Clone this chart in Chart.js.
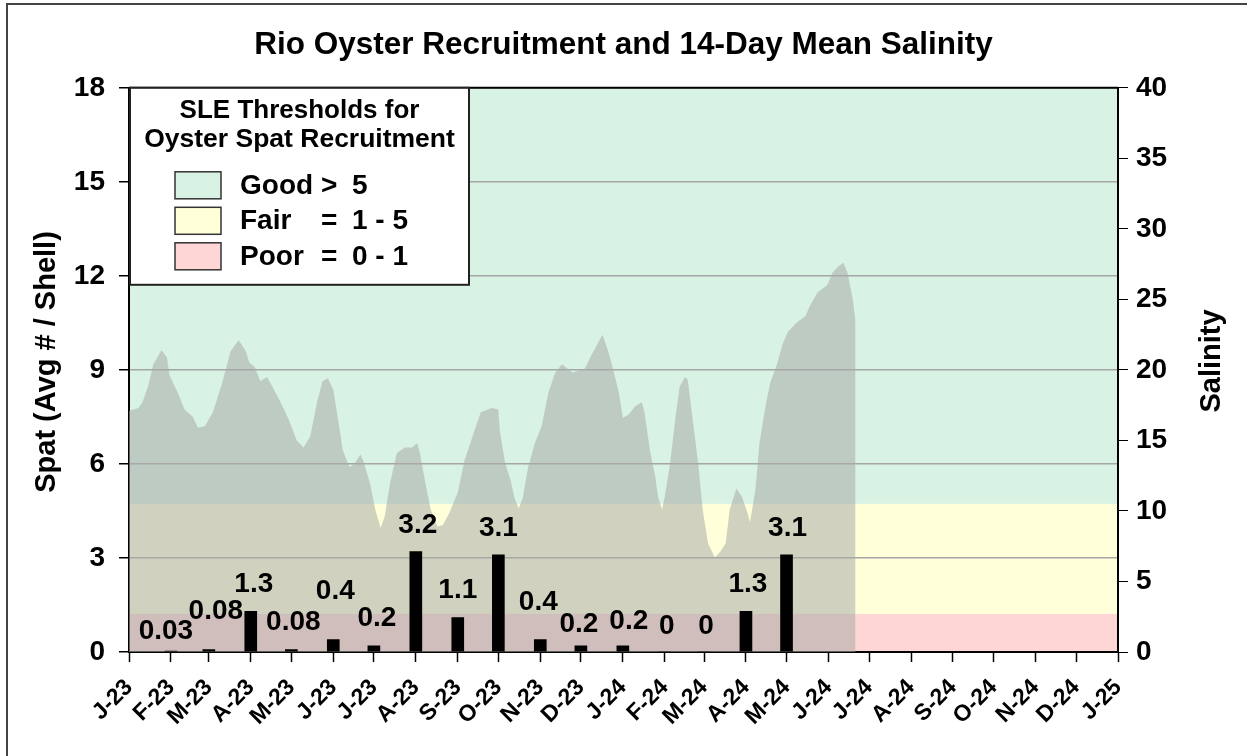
<!DOCTYPE html>
<html>
<head>
<meta charset="utf-8">
<title>Rio Oyster Recruitment and 14-Day Mean Salinity</title>
<script src="https://cdn.jsdelivr.net/npm/chart.js@4.4.1/dist/chart.umd.min.js"></script>
<style>
    html, body { margin: 0; padding: 0; background: #fff; }
    #wrap { width: 1247px; height: 756px; }
</style>
</head>
<body>
<div id="wrap"><canvas id="chart" width="1247" height="756"></canvas></div>
<script>
// Month ticks, Jan 2023 .. Jan 2025
const monthLabels = ['J-23', 'F-23', 'M-23', 'A-23', 'M-23', 'J-23', 'J-23', 'A-23', 'S-23', 'O-23', 'N-23', 'D-23',
    'J-24', 'F-24', 'M-24', 'A-24', 'M-24', 'J-24', 'J-24', 'A-24', 'S-24', 'O-24', 'N-24', 'D-24', 'J-25'];

// Spat sampling months and average spat per shell
const spatMonths = ['2023-02', '2023-03', '2023-04', '2023-05', '2023-06', '2023-07', '2023-08', '2023-09',
    '2023-10', '2023-11', '2023-12', '2024-01', '2024-02', '2024-03', '2024-04', '2024-05'];
const spatValues = [0.03, 0.08, 1.3, 0.08, 0.4, 0.2, 3.2, 1.1, 3.1, 0.4, 0.2, 0.2, 0, 0, 1.3, 3.1];

// 14-day mean salinity (day since 1 Jan 2023, salinity)
const salinityDays = [0, 7, 10, 14, 18, 24, 28, 30, 36, 41, 47, 51, 56, 62, 69, 75, 81, 86, 89, 93,
    97, 102, 106, 112, 118, 124, 129, 134, 139, 143, 147, 151, 155, 158, 163, 167, 171, 173, 178, 182,
    186, 189, 193, 198, 204, 209, 213, 215, 219, 223, 228, 232, 237, 243, 248, 254, 260, 263, 268, 273,
    274, 278, 282, 285, 288, 291, 295, 300, 305, 310, 315, 320, 324, 328, 331, 337, 341, 346, 350, 354,
    358, 362, 365, 369, 374, 379, 381, 385, 389, 391, 394, 396, 400, 404, 407, 411, 413, 417, 421, 424,
    428, 433, 437, 441, 444, 449, 453, 457, 459, 463, 466, 470, 474, 479, 483, 487, 494, 500, 503, 509,
    516, 520, 524, 528, 531, 535, 537];
const salinityValues = [17.1, 17.3, 17.7, 18.8, 20.4, 21.4, 20.9, 19.6, 18.4, 17.2, 16.7, 15.9, 16.0, 17.0, 19.1, 21.3, 22.1, 21.4, 20.5, 20.2,
    19.2, 19.5, 18.8, 17.7, 16.5, 15.0, 14.5, 15.3, 17.7, 19.2, 19.4, 18.6, 16.2, 14.3, 13.1, 13.4, 14.0, 13.6, 12.0, 10.1,
    8.8, 9.6, 12.0, 14.1, 14.5, 14.5, 14.8, 14.1, 12.0, 10.1, 8.9, 9.0, 9.9, 11.3, 13.6, 15.3, 17.0, 17.1, 17.3, 17.2,
    15.7, 13.4, 12.2, 10.9, 10.2, 10.9, 13.1, 14.8, 16.0, 18.4, 19.8, 20.4, 20.1, 19.8, 19.9, 20.1, 20.9, 21.8, 22.5, 21.4,
    20.0, 18.4, 16.6, 16.8, 17.4, 17.7, 17.0, 14.3, 12.4, 11.0, 10.1, 11.0, 13.4, 16.7, 18.8, 19.5, 19.3, 16.2, 13.1, 10.1,
    7.7, 6.7, 7.1, 7.7, 10.1, 11.6, 11.0, 9.9, 9.2, 11.5, 14.8, 17.2, 19.1, 20.4, 21.8, 22.7, 23.4, 23.8, 24.5, 25.5,
    26.0, 26.9, 27.3, 27.6, 26.9, 25.0, 23.4];

// SLE threshold bands on the salinity axis, top to bottom
const bandEdges = [40, 10.5, 2.7, 0];
const bandColors = ['#d8f2e4', '#ffffd9', '#ffd6d6'];
const legendNames = ['Good', 'Fair', 'Poor'];
const legendSigns = ['>', '=', '='];
const legendRanges = ['5', '1 - 5', '0 - 1'];

// nudges for the bar value labels (px), like the hand-placed labels of the original
const labelLift = [20, 38, 27, 27, 48, 27, 26, 27, 27, 37, 21, 24, 26, 26, 27, 27];
const labelShift = [-5, 7, 3, 2, 2, 3, 2, 0, 0, -2, -2, 6, 2, 2, 2, 1];

const FONT = "'Liberation Sans', Arial, sans-serif";
const t0 = Date.UTC(2023, 0, 1);
function dayOf(y, m) {
    return (Date.UTC(y, m, 1) - t0) / 86400000;
}
const monthDays = monthLabels.map((_, i) => dayOf(2023, i));
const spatDays = spatMonths.map(s => {
    const [y, m] = s.split('-').map(Number);
    return dayOf(y, m - 1);
});

Chart.defaults.font.family = FONT;
Chart.defaults.color = '#000';

// threshold bands behind everything
const bands = {
    id: 'bands',
    beforeDraw(chart) {
        const { ctx, chartArea: a } = chart;
        const y2 = chart.scales.y2;
        ctx.save();
        ctx.fillStyle = '#fff';
        ctx.fillRect(0, 0, chart.width, chart.height);
        for (let i = 0; i < bandColors.length; i++) {
            const top = y2.getPixelForValue(bandEdges[i]);
            const bottom = y2.getPixelForValue(bandEdges[i + 1]);
            ctx.fillStyle = bandColors[i];
            ctx.fillRect(a.left, top, a.right - a.left, bottom - top);
        }
        ctx.restore();
    }
};

// value labels over the bars
const barLabels = {
    id: 'barLabels',
    afterDatasetsDraw(chart) {
        const ctx = chart.ctx;
        const meta = chart.getDatasetMeta(0);
        ctx.save();
        ctx.font = 'bold 28px ' + FONT;
        ctx.fillStyle = '#000';
        ctx.textAlign = 'center';
        ctx.textBaseline = 'middle';
        meta.data.forEach((bar, i) => {
            ctx.fillText(String(spatValues[i]), bar.x + labelShift[i], bar.y - labelLift[i]);
        });
        ctx.restore();
    }
};

// legend box, axis titles, top border and outer frame
const extras = {
    id: 'extras',
    afterDraw(chart) {
        const { ctx, chartArea: a } = chart;
        ctx.save();

        // top border of the plot
        ctx.strokeStyle = '#000';
        ctx.lineWidth = 2;
        ctx.beginPath();
        ctx.moveTo(a.left, a.top);
        ctx.lineTo(a.right, a.top);
        ctx.stroke();

        // legend box
        const bx = a.left + 1, by = a.top, bw = 339, bh = 197;
        ctx.fillStyle = '#fff';
        ctx.fillRect(bx, by, bw, bh);
        ctx.strokeStyle = '#222';
        ctx.strokeRect(bx, by, bw, bh);

        ctx.fillStyle = '#000';
        ctx.textAlign = 'center';
        ctx.textBaseline = 'middle';
        ctx.font = 'bold 26px ' + FONT;
        ctx.fillText('SLE Thresholds for', bx + bw / 2, by + 23);
        ctx.font = 'bold 26.5px ' + FONT;
        ctx.fillText('Oyster Spat Recruitment', bx + bw / 2, by + 52);

        ctx.font = 'bold 28px ' + FONT;
        ctx.textAlign = 'left';
        for (let i = 0; i < legendNames.length; i++) {
            const sy = by + 84 + i * 35.5;
            ctx.fillStyle = bandColors[i];
            ctx.fillRect(bx + 45, sy, 46, 27);
            ctx.strokeStyle = '#333';
            ctx.lineWidth = 1.5;
            ctx.strokeRect(bx + 45, sy, 46, 27);
            ctx.fillStyle = '#000';
            ctx.fillText(legendNames[i], bx + 110, sy + 14);
            ctx.fillText(legendSigns[i], bx + 191, sy + 14);
            ctx.fillText(legendRanges[i], bx + 222, sy + 14);
        }

        // axis titles, both read bottom to top
        ctx.font = 'bold 29px ' + FONT;
        ctx.textAlign = 'center';
        ctx.translate(47, 362);
        ctx.rotate(-Math.PI / 2);
        ctx.fillText('Spat (Avg # / Shell)', 0, 0);
        ctx.setTransform(1, 0, 0, 1, 0, 0);
        ctx.translate(1212, 361);
        ctx.rotate(-Math.PI / 2);
        ctx.fillText('Salinity', 0, 0);
        ctx.setTransform(1, 0, 0, 1, 0, 0);

        // outer frame
        ctx.strokeStyle = '#444';
        ctx.lineWidth = 2;
        ctx.strokeRect(7, 4, 1260, 800);
        ctx.restore();
    }
};

document.addEventListener('DOMContentLoaded', function () {
    const ctx = document.getElementById('chart').getContext('2d');

    new Chart(ctx, {
        type: 'bar',
        data: {
            datasets: [
                {
                    type: 'bar',
                    label: 'Spat',
                    data: spatDays.map((d, i) => ({ x: d, y: spatValues[i] })),
                    backgroundColor: '#000',
                    barThickness: 12,
                    yAxisID: 'y',
                    order: 1
                },
                {
                    type: 'line',
                    label: 'Salinity',
                    data: salinityDays.map((d, i) => ({ x: d, y: salinityValues[i] })),
                    yAxisID: 'y2',
                    fill: 'origin',
                    backgroundColor: 'rgba(170, 172, 168, 0.55)',
                    borderWidth: 0,
                    pointRadius: 0,
                    tension: 0,
                    order: 2
                }
            ]
        },
        options: {
            responsive: false,
            animation: false,
            layout: { padding: 0 },
            plugins: {
                legend: { display: false },
                tooltip: { enabled: false },
                title: {
                    display: true,
                    text: 'Rio Oyster Recruitment and 14-Day Mean Salinity',
                    color: '#000',
                    font: { size: 31.5, weight: 'bold' },
                    padding: { top: 26, bottom: 24 }
                }
            },
            scales: {
                x: {
                    type: 'linear',
                    min: 0,
                    max: 731,
                    offset: false,
                    afterBuildTicks: s => { s.ticks = monthDays.map(v => ({ value: v })); },
                    afterFit: s => { s.height = 104; },
                    grid: { offset: false, drawOnChartArea: false, tickLength: 10, tickColor: '#000', tickWidth: 1.5 },
                    border: { color: '#000', width: 2 },
                    ticks: {
                        autoSkip: false,
                        minRotation: 45,
                        maxRotation: 45,
                        padding: 12,
                        color: '#000',
                        font: { size: 23, weight: 'bold' },
                        callback: (v, i) => monthLabels[i]
                    }
                },
                y: {
                    position: 'left',
                    min: 0,
                    max: 18,
                    afterFit: s => { s.width = 129; },
                    grid: { color: '#a6a6a6', lineWidth: 1.5, tickColor: '#000', tickLength: 10 },
                    border: { color: '#000', width: 2 },
                    ticks: { stepSize: 3, padding: 14, color: '#000', font: { size: 28, weight: 'bold' } }
                },
                y2: {
                    position: 'right',
                    min: 0,
                    max: 40,
                    afterFit: s => { s.width = 129; },
                    grid: { drawOnChartArea: false, tickColor: '#000', tickLength: 10 },
                    border: { color: '#000', width: 2 },
                    ticks: { stepSize: 5, padding: 8, color: '#000', font: { size: 28, weight: 'bold' } }
                }
            }
        },
        plugins: [bands, barLabels, extras]
    });
});
</script>
</body>
</html>
